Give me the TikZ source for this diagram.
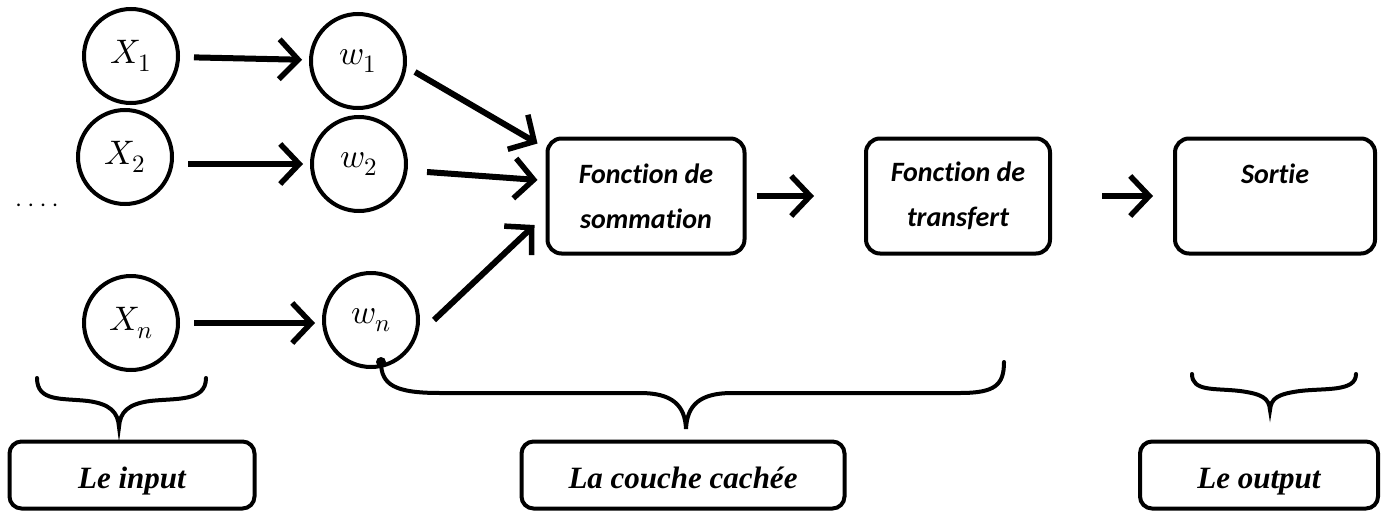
\documentclass[tikz,border=0pt]{standalone}
\usepackage{fontspec}
\usepackage{unicode-math}
\setmathfont{Latin Modern Math}
\newfontfamily\calib[Ligatures=NoCommon]{Carlito}
\newfontfamily\tms{Liberation Serif}
\usetikzlibrary{arrows.meta}
\newcommand{\mysub}[1]{_{\hbox{\fontsize{25}{25}\selectfont$#1$}}}
\begin{document}
\begin{tikzpicture}[x=1pt,y=-1pt,
  neuron/.style={circle,draw,line width=4pt,minimum size=94pt,inner sep=0pt,font=\fontsize{34}{34}\selectfont},
  fbox/.style={rounded corners=14pt,draw,line width=4pt,minimum height=115pt,inner sep=0pt,align=center,
     font=\calib\bfseries\itshape\fontsize{28}{45}\selectfont},
  lbox/.style={rounded corners=12pt,draw,line width=4pt,minimum height=67pt,inner sep=0pt,
     text height=30pt,text depth=4pt,
     font=\tms\bfseries\itshape\fontsize{31}{31}\selectfont},
  arr/.style={line width=6pt,-{Straight Barb[length=19pt,width=40pt,line width=5.5pt]}},
  brace/.style={line width=4pt,line cap=round}]
\useasboundingbox (0,0) rectangle (1381,511);
% input neurons
\node[neuron] (x1) at (131,56) {$X\mysub{1}$};
\node[neuron] (x2) at (125,157) {$X\mysub{2}$};
\node[neuron] (xn) at (131,323) {$X\mysub{n}$};
\node[neuron] (w1) at (358,61) {$w\mysub{1}$};
\node[neuron] (w2) at (359,164) {$w\mysub{2}$};
\node[neuron] (wn) at (371,320) {$w\mysub{n}$};
\node[font=\calib\fontsize{22}{22}\selectfont] (dots) at (37,205) {. . . .};
% boxes
\node[fbox,minimum width=197pt] (sum) at (646,196) {Fonction de\\sommation};
\node[fbox,minimum width=184pt] (tr) at (958,196) {Fonction de\\transfert};
\node[fbox,minimum width=200pt] (out) at (1275,196) {Sortie\\\phantom{sommation}};
% arrows
\draw[arr,shorten <=14pt,shorten >=7pt] (x1) -- (w1);
\draw[arr,shorten <=14pt,shorten >=7pt] (x2.east |- w2) -- (w2);
\draw[arr,shorten <=14pt,shorten >=7pt] (xn) -- (xn -| wn.west);
\draw[arr] ([shift={(8,11)}]w1.east) -- ([shift={(-8,7)}]sum.north west);
\draw[arr] ([shift={(19,8)}]w2.east) -- ([shift={(-8,-16)}]sum.west);
\draw[arr] ([shift={(14,0)}]wn.east) -- ([shift={(-11,29)}]sum.west);
\draw[arr] ([xshift=10pt]sum.east) -- ([xshift=-50pt]tr.west);
\draw[arr] ([xshift=50pt]tr.east) -- ([xshift=-20pt]out.west);
% bottom labels
\node[lbox,minimum width=245pt] (lin) at (132,475) {Le input};
\node[lbox,minimum width=323pt] (lhid) at (683,475) {La couche cach\'ee};
\node[lbox,minimum width=238pt] (lout) at (1259,475) {Le output};
% braces
\draw[brace] (37,378) .. controls (37,402) and (62,398) .. (88,401) .. controls (110,404) and (118,412) .. (119,427)
   .. controls (120,412) and (128,404) .. (150,401) .. controls (176,398) and (206,402) .. (206,378);
\draw[brace] (381,362) .. controls (381,385) and (395,393) .. (440,393) -- (640,393) .. controls (672,393) and (685,405) .. (686,429)
   .. controls (687,405) and (700,393) .. (732,393) -- (960,393) .. controls (995,393) and (1004,385) .. (1004,362);
\fill (381,362) circle (5pt);
\draw[brace] (1192,374) .. controls (1192,392) and (1215,388) .. (1240,391) .. controls (1262,394) and (1269,398) .. (1270,410)
   .. controls (1271,398) and (1278,394) .. (1300,391) .. controls (1325,388) and (1356,392) .. (1356,374);
\end{tikzpicture}
\end{document}
